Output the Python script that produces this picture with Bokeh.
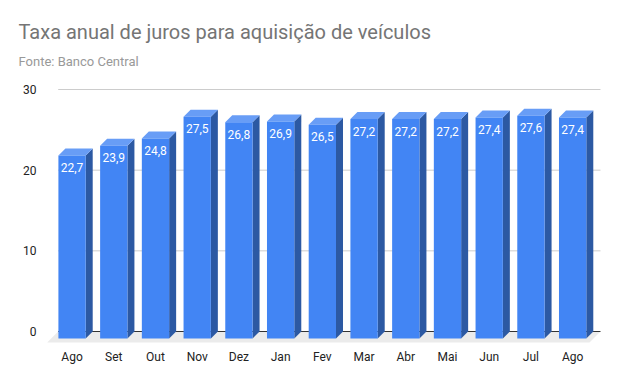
from bokeh.plotting import figure
from bokeh.models import FixedTicker, Title, ColumnDataSource, Range1d
from bokeh.embed import file_html
from bokeh.resources import INLINE
from bokeh.core.properties import value

# ---- data ----
months = ["Ago", "Set", "Out", "Nov", "Dez", "Jan", "Fev", "Mar", "Abr", "Mai", "Jun", "Jul", "Ago"]
rates = [22.7, 23.9, 24.8, 27.5, 26.8, 26.9, 26.5, 27.2, 27.2, 27.2, 27.4, 27.6, 27.4]
y_ticks = [0, 10, 20, 30]
title_text = "Taxa anual de juros para aquisição de veículos"
subtitle_text = "Fonte: Banco Central"

# ---- geometry (pixels) ----
W, H = 612, 375
ML, MR, MT, MB = 44, 8, 80, 32
FW, FH = W - ML - MR, H - MT - MB
PPX = 41.715            # pixels per category
PPY = 8.067             # pixels per unit of value
DEPTH = 7               # bar depth (px)
FLOOR = 11              # floor depth (px)
BAR_W = 27.3 / PPX      # bar width in category units
BACK_LEFT_PX = 13.7     # back-plane left edge from frame left
ZERO_PX = 251           # zero line from frame top

dxd = DEPTH / PPX
dyd = DEPTH / PPY
fxd = FLOOR / PPX
fyd = FLOOR / PPY

n = len(months)
xs = list(range(n))
back_l = -0.5 + dxd
back_r = n - 0.5 + dxd
x_start = back_l - BACK_LEFT_PX / PPX
x_end = x_start + FW / PPX
y_end = ZERO_PX / PPY
y_start = y_end - FH / PPY

FONT = "Roboto"

p = figure(width=W, height=H, output_backend="svg", toolbar_location=None,
           x_range=Range1d(x_start, x_end), y_range=Range1d(y_start, y_end),
           min_border_left=ML, min_border_right=MR, min_border_top=MT, min_border_bottom=MB,
           title_location=None)
p.outline_line_color = None
p.background_fill_color = "white"
p.border_fill_color = "white"
p.xgrid.visible = False
p.ygrid.visible = False

# titles
p.add_layout(Title(text=subtitle_text, text_font=FONT, text_font_size="13px",
                   text_color="#999999", text_font_style="normal", align="left",
                   vertical_align="top", offset=-26, standoff=19), "above")
p.add_layout(Title(text=title_text, text_font=FONT, text_font_size="20px",
                   text_color="#757575", text_font_style="normal", align="left",
                   offset=-26, standoff=1), "above")

# floor
p.patch([back_l, back_r, back_r - fxd, back_l - fxd], [0, 0, -fyd, -fyd],
        fill_color="#ebebeb", line_color=None)

# gridlines on back plane
grid_vals = [t for t in y_ticks if t != 0]
p.segment(x0=[back_l] * len(grid_vals), x1=[back_r] * len(grid_vals),
          y0=grid_vals, y1=grid_vals, line_color="#cccccc", line_width=1)
p.segment(x0=[back_l], x1=[back_r], y0=[0], y1=[0], line_color="#333333", line_width=1)

# bars
hw = BAR_W / 2
front_l = [x - hw for x in xs]
front_r = [x + hw for x in xs]
front_b = [-dyd] * n
front_t = [v - dyd for v in rates]

side_xs = [[r, r + dxd, r + dxd, r] for r in front_r]
side_ys = [[b, b + dyd, t + dyd, t] for b, t in zip(front_b, front_t)]
top_xs = [[l, r, r + dxd, l + dxd] for l, r in zip(front_l, front_r)]
top_ys = [[t, t, t + dyd, t + dyd] for t in front_t]

p.patches(side_xs, side_ys, fill_color="#2c59a3", line_color=None)
p.patches(top_xs, top_ys, fill_color="#689df6", line_color=None)
p.quad(left=front_l, right=front_r, bottom=front_b, top=front_t,
       fill_color="#4285f4", line_color=None)

labels = [f"{v:.1f}".replace(".", ",") for v in rates]
src = ColumnDataSource(dict(x=xs, y=front_t, t=labels))
p.text(x="x", y="y", text="t", source=src, y_offset=12, text_align="center",
       text_baseline="middle", text_color="white", text_font=value(FONT),
       text_font_size="12px")

# axes
p.xaxis.ticker = FixedTicker(ticks=xs)
p.xaxis.major_label_overrides = {i: m for i, m in zip(xs, months)}
p.yaxis.ticker = FixedTicker(ticks=y_ticks)
for ax in (p.xaxis[0], p.yaxis[0]):
    ax.axis_line_color = None
    ax.major_tick_line_color = None
    ax.minor_tick_line_color = None
    ax.major_label_text_font = FONT
    ax.major_label_text_font_size = "12px"
    ax.major_label_text_color = "#222222"
p.xaxis.major_label_standoff = 0
p.yaxis.major_label_standoff = 2

open("out.html", "w").write(file_html(p, INLINE))
